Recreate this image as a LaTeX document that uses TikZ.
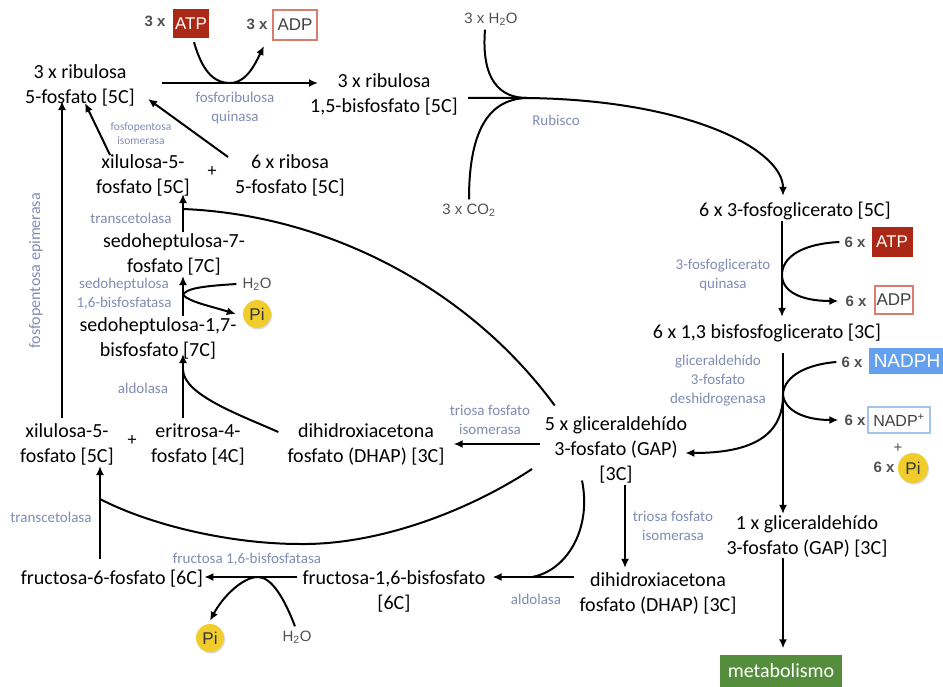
\documentclass[tikz,border=0pt]{standalone}
\usepackage{fontspec}
\setmainfont{Carlito}
\newfontfamily\arialfont{Liberation Sans}
\usetikzlibrary{arrows.meta,positioning,shadows}

\definecolor{enzgray}{RGB}{128,140,178}
\definecolor{coefgray}{RGB}{80,80,80}
\definecolor{atpred}{RGB}{172,40,22}
\definecolor{adpred}{RGB}{218,125,110}
\definecolor{nadblue}{RGB}{100,160,238}
\definecolor{nadpline}{RGB}{160,195,240}
\definecolor{piyellow}{RGB}{240,205,45}
\definecolor{metgreen}{RGB}{84,142,60}

\begin{document}
\begin{tikzpicture}[x=1pt, y=-1pt,
    met/.style={align=center, font=\fontsize{20}{25}\selectfont, inner sep=1pt},
    enz/.style={text=enzgray, align=center, font=\fontsize{15}{19}\selectfont, inner sep=1pt},
    enzsmall/.style={enz, font=\fontsize{11.5}{14}\selectfont},
    coef/.style={text=coefgray, font=\arialfont\bfseries\fontsize{15}{17}\selectfont, inner sep=1pt},
    gas/.style={text=coefgray, font=\arialfont\fontsize{15}{18}\selectfont, inner sep=1pt},
    atpbox/.style={fill=atpred, text=white, font=\arialfont\fontsize{17}{19}\selectfont, inner sep=0pt},
    adpbox/.style={draw=adpred, line width=1.2pt, fill=white, text=black!75, font=\arialfont\fontsize{17}{19}\selectfont, inner sep=0pt},
    nadphbox/.style={fill=nadblue, text=white, font=\arialfont\fontsize{19}{21}\selectfont, inner sep=0pt},
    nadpbox/.style={draw=nadpline, line width=1.2pt, fill=white, text=black!75, font=\arialfont\fontsize{16}{18}\selectfont, inner sep=0pt},
    piball/.style={circle, fill=piyellow, text=black!80, minimum size=28pt, inner sep=0pt, font=\arialfont\fontsize{17}{19}\selectfont, drop shadow={opacity=0.3, shadow xshift=1pt, shadow yshift=-1.5pt}},
    metbox/.style={fill=metgreen, text=white, font=\fontsize{20}{24}\selectfont, minimum width=122pt, minimum height=33pt, inner sep=0pt},
    line/.style={line width=2pt},
    arr/.style={line, -{Latex[length=9pt,width=8pt]}}
]
\useasboundingbox (0,0) rectangle (943,687);

% Phosphorylation of ribulose 5-phosphate
\node[met] (rib5) at (80,85) {3 x ribulosa\\5-fosfato [5C]};
\node[met] (rib15) at (384,94) {3 x ribulosa\\1,5-bisfosfato [5C]};
\node[coef] (atp1x) at (155,21) {3 x};
\node[atpbox, minimum width=36pt, minimum height=29pt] (atp1) at (191,23.5) {ATP};
\node[coef] (adp1x) at (257,24) {3 x};
\node[adpbox, minimum width=44pt, minimum height=30pt] (adp1) at (295,25) {ADP};
\node[enz] (prk) at (235,108) {fosforibulosa\\quinasa};
\coordinate (prkL) at (162,83);
\coordinate (prkR) at (318,83);
\coordinate (prkJ) at (230,83);
\coordinate (prkT) at (264,46);
\draw[arr] (prkL) -- (prkR);
\draw[arr] ([xshift=3pt,yshift=-4pt]atp1.south) .. controls (202,70) and (213,83) .. (prkJ) .. controls (247,83) and (256,62) .. (prkT);

% Carboxylation (Rubisco)
\node[gas] (h2o1) at (491,19) {3 x H\textsubscript{2}O};
\node[gas] (co2) at (469,210) {3 x CO\textsubscript{2}};
\node[enz] (rub) at (556,120) {Rubisco};
\node[met] (pga) at (795,211) {6 x 3-fosfoglicerato [5C]};
\coordinate (rubL) at (468,98);
\coordinate (rubJ) at (527,98);
\draw[line] ([xshift=-6pt,yshift=-3pt]h2o1.south) .. controls (481,80) and (500,98) .. (rubJ);
\draw[line] ([yshift=3pt]co2.north) .. controls (469,125) and (492,99) .. (rubJ);
\draw[arr] (rubL) -- (rubJ) .. controls (690,100) and (783,150) .. ([yshift=5pt]pga.north -| 783,0);

% Reduction
\node[enz] (pgk) at (723,275) {3-fosfoglicerato\\quinasa};
\node[coef] (atp2x) at (855,242) {6 x};
\node[atpbox, minimum width=41pt, minimum height=30pt] (atp2) at (892,242) {ATP};
\node[coef] (adp2x) at (856,301) {6 x};
\node[adpbox, minimum width=38pt, minimum height=28pt] (adp2) at (894,300) {ADP};
\node[met] (bpg) at (767,333) {6 x 1,3 bisfosfoglicerato [3C]};
\coordinate (pgkJ) at (782,275);
\draw[arr] (pga.south -| pgkJ) -- ([yshift=6pt]bpg.north -| pgkJ);
\draw[line] ([xshift=-4pt]atp2x.west) .. controls (800,244) and (782,258) .. (pgkJ);
\draw[arr] (pgkJ) .. controls (782,291) and (800,301) .. ([xshift=-6pt]adp2x.west);

\node[enz] (gdh) at (718,381) {gliceraldehído\\3-fosfato\\deshidrogenasa};
\node[coef] (nadphx) at (852,362) {6 x};
\node[nadphbox, minimum width=76pt, minimum height=26pt] (nadph) at (907,361) {NADPH};
\node[coef] (nadpx) at (855,420) {6 x};
\node[nadpbox, minimum width=62pt, minimum height=26pt] (nadp) at (899,420) {NADP\textsuperscript{+}};
\node[gas] (pluspi) at (898,448) {+};
\node[coef] (pi1x) at (884,467) {6 x};
\node[piball, minimum size=30pt] (pi1) at (913,468) {Pi};
\node[met] (gap) at (616,450) {5 x gliceraldehído\\3-fosfato (GAP)\\{[3C]}};
\node[met] (gap1) at (807,536) {1 x gliceraldehído\\3-fosfato (GAP) [3C]};
\node[metbox] (metab) at (781,671) {metabolismo};
\coordinate (gdhJ) at (783,395);
\draw[arr] ([yshift=-10pt]bpg.south -| gdhJ) -- (gap1.north -| gdhJ);
\draw[line] ([xshift=-4pt]nadphx.west) .. controls (800,365) and (783,380) .. (gdhJ);
\draw[arr] (gdhJ) .. controls (785,411) and (805,420) .. ([xshift=-5pt]nadpx.west);
\draw[arr] (gdhJ) .. controls (783,440) and (745,453) .. ([xshift=-3pt]gap.east |- 0,453);
\draw[arr] (gap1.south -| gdhJ) -- ([yshift=6pt]metab.north -| gdhJ);

% Regeneration: triose phosphates
\node[enz] (tpi2) at (673,526) {triosa fosfato\\isomerasa};
\node[met] (dhap2) at (658,593) {dihidroxiacetona\\fosfato (DHAP) [3C]};
\draw[arr] ([xshift=9pt]gap.south) -- ([xshift=9pt,yshift=3pt]gap.south |- dhap2.north);
\node[enz] (tpi1) at (490,420) {triosa fosfato\\isomerasa};
\node[met] (dhap1) at (366,444) {dihidroxiacetona\\fosfato (DHAP) [3C]};
\draw[arr] ([xshift=-4pt]gap.west |- dhap1) -- ([xshift=8pt]dhap1.east);

% Aldolase and fructose bisphosphatase
\node[enz] (ald2) at (536,599) {aldolasa};
\node[met] (fbp) at (394,591) {fructosa-1,6-bisfosfato\\{[6C]}};
\coordinate (aldJ) at (532,577);
\draw[arr] ([xshift=-4pt]dhap2.west |- aldJ) -- ([xshift=6pt]fbp.east |- aldJ);
\draw[line] ([xshift=-34pt,yshift=4pt]gap.south) .. controls (592,530) and (566,571) .. (aldJ);
\node[enz] (fbpase) at (247,559) {fructosa 1,6-bisfosfatasa};
\node[met] (f6p) at (112,579) {fructosa-6-fosfato [6C]};
\node[gas] (h2o3) at (297,637) {H\textsubscript{2}O};
\node[piball] (pi3) at (210,638) {Pi};
\coordinate (fbpJ) at (258,577);
\draw[arr] ([xshift=-4pt]fbp.west |- fbpJ) -- (f6p.east |- fbpJ);
\draw[line] ([xshift=-2pt,yshift=3pt]h2o3.north) .. controls (285,600) and (272,577) .. (fbpJ);
\draw[arr] (fbpJ) .. controls (242,577) and (222,598) .. ([yshift=3pt]pi3.north);

% Transketolase (lower) and epimerase
\node[enz] (tk2) at (51,517) {transcetolasa};
\node[met] (xil2) at (67,444) {xilulosa-5-\\fosfato [5C]};
\node[met, font=\fontsize{18}{20}\selectfont] (plus2) at (132,441) {+};
\node[met] (e4p) at (198,444) {eritrosa-4-\\fosfato [4C]};
\coordinate (tk2J) at (100,499);
\coordinate (gapSW) at (532,469);
\draw[arr] ([yshift=10pt]f6p.north -| tk2J) -- (xil2.south -| tk2J);
\draw[line] (gapSW) .. controls (470,510) and (380,545) .. (300,544) .. controls (230,544) and (150,525) .. (tk2J);
\draw[arr] ([xshift=-5pt,yshift=4pt]xil2.north) -- ([xshift=-18pt,yshift=6pt]rib5.south);
\node[enz, rotate=90, font=\fontsize{16}{19}\selectfont] (epi) at (36,271) {fosfopentosa epimerasa};

% Aldolase (upper) and sedoheptulose bisphosphatase
\node[enz] (ald1) at (143,388) {aldolasa};
\node[met] (s17bp) at (158,338) {sedoheptulosa-1,7-\\bisfosfato [7C]};
\node[met] (s7p) at (174,254) {sedoheptulosa-7-\\fosfato [7C]};
\coordinate (ald1J) at (183,370);
\draw[arr] ([yshift=4pt]e4p.north -| ald1J) -- ([yshift=6pt]s17bp.south -| ald1J);
\draw[line] ([xshift=-8pt,yshift=12pt]dhap1.west) .. controls (240,415) and (184,395) .. (ald1J);
\node[enz] (sbpase) at (124,294) {sedoheptulosa\\1,6-bisfosfatasa};
\node[gas] (h2o2) at (257,284) {H\textsubscript{2}O};
\node[piball] (pi2) at (257,314) {Pi};
\coordinate (sbpJ) at (183,295);
\draw[arr] (s17bp.north -| sbpJ) -- (s7p.south -| sbpJ);
\draw[line] ([xshift=-5pt]h2o2.west) .. controls (205,286) and (186,288) .. (sbpJ);
\draw[arr] (sbpJ) .. controls (190,302) and (210,306) .. ([xshift=-7pt]pi2.west);

% Transketolase (upper) and isomerase
\node[enz] (tk1) at (131,218) {transcetolasa};
\node[met] (xil1) at (143,175) {xilulosa-5-\\fosfato [5C]};
\node[met, font=\fontsize{18}{20}\selectfont] (plus1) at (212,172) {+};
\node[met] (r5p) at (290,175) {6 x ribosa\\5-fosfato [5C]};
\node[enzsmall] (ppi) at (141,134) {fosfopentosa\\isomerasa};
\coordinate (tk1J) at (183,209);
\draw[arr] (s7p.north -| tk1J) -- ([yshift=3pt]xil1.south -| tk1J);
\draw[line] ([xshift=11pt,yshift=10pt]gap.north west) .. controls (470,290) and (330,215) .. (tk1J);
\draw[arr] ([xshift=-33pt,yshift=-2pt]xil1.north) -- ([xshift=5pt,yshift=4pt]rib5.south);
\draw[arr] ([xshift=-62pt,yshift=-4pt]r5p.north) -- ([xshift=12pt,yshift=8pt]rib5.south east);
\end{tikzpicture}
\end{document}
